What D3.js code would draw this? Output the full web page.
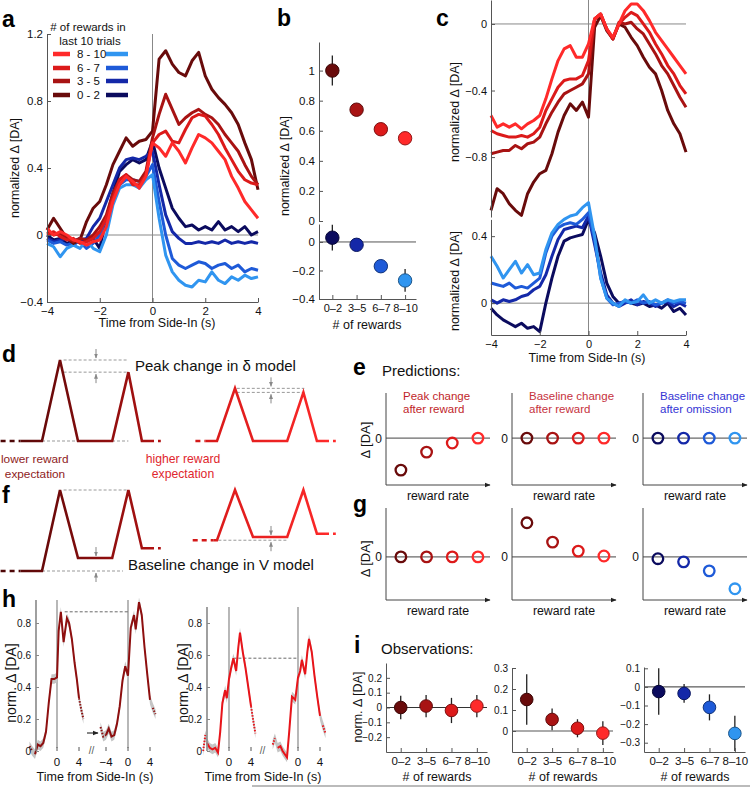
<!DOCTYPE html>
<html><head><meta charset="utf-8">
<script src="https://cdn.jsdelivr.net/npm/d3@7"></script>
<style>body{margin:0;background:#fff;}</style>
</head><body>
<script>
// ================= DATA =================
const groupNames = ["0 - 2","3 - 5","6 - 7","8 - 10"];
const groupTicks = ["0–2","3–5","6–7","8–10"];
const timeA = [-4,-3.75,-3.5,-3.25,-3,-2.75,-2.5,-2.25,-2,-1.75,-1.5,-1.25,-1,-0.75,-0.5,-0.25,0,0.25,0.5,0.75,1,1.25,1.5,1.75,2,2.25,2.5,2.75,3,3.25,3.5,3.75,4];
// panel a (order 0-2, 3-5, 6-7, 8-10)
const aRed02  = [0.03,0.10,0.04,-0.02,-0.05,-0.03,0.08,0.16,0.20,0.30,0.42,0.50,0.58,0.53,0.56,0.57,0.62,1.05,1.10,1.02,0.97,0.95,1.04,1.09,0.95,0.87,0.82,0.78,0.73,0.66,0.55,0.45,0.27];
const aRed35  = [0.02,0.00,0.01,-0.02,-0.04,-0.02,-0.03,0.00,0.05,0.12,0.25,0.33,0.36,0.33,0.32,0.38,0.58,0.72,0.84,0.75,0.66,0.70,0.73,0.75,0.72,0.70,0.66,0.60,0.55,0.50,0.42,0.35,0.30];
const aRed67  = [0.00,0.02,-0.01,-0.03,-0.02,-0.05,-0.04,-0.02,0.02,0.10,0.22,0.33,0.36,0.30,0.30,0.36,0.55,0.60,0.62,0.56,0.55,0.63,0.70,0.72,0.71,0.66,0.60,0.52,0.45,0.38,0.33,0.31,0.30];
const aRed810 = [0.04,0.00,0.02,0.00,-0.03,-0.04,-0.06,-0.04,-0.03,0.05,0.20,0.30,0.35,0.32,0.28,0.35,0.55,0.52,0.47,0.55,0.50,0.43,0.52,0.60,0.58,0.55,0.50,0.45,0.35,0.28,0.20,0.15,0.10];
const aBlue02  = [0.00,-0.03,-0.02,-0.05,-0.04,-0.02,-0.04,-0.02,-0.08,0.10,0.25,0.38,0.42,0.45,0.43,0.45,0.56,0.40,0.28,0.16,0.10,0.05,0.06,0.03,0.05,0.03,0.08,0.03,0.05,0.02,0.05,0.00,0.02];
const aBlue35  = [-0.02,-0.04,-0.03,-0.02,-0.06,-0.03,-0.02,0.05,0.10,0.20,0.30,0.40,0.45,0.46,0.45,0.47,0.50,0.30,0.12,0.02,-0.02,-0.05,-0.05,-0.04,-0.05,-0.04,-0.05,-0.03,-0.05,-0.04,-0.05,-0.04,-0.05];
const aBlue67  = [-0.03,-0.05,-0.04,-0.06,-0.05,-0.04,-0.08,-0.05,0.00,0.10,0.22,0.30,0.33,0.33,0.32,0.35,0.42,0.20,0.00,-0.14,-0.18,-0.20,-0.18,-0.16,-0.17,-0.20,-0.18,-0.17,-0.20,-0.18,-0.22,-0.20,-0.21];
const aBlue810 = [-0.05,-0.07,-0.13,-0.08,-0.06,-0.08,-0.03,-0.08,-0.10,0.00,0.18,0.28,0.30,0.30,0.28,0.33,0.36,0.10,-0.12,-0.22,-0.27,-0.30,-0.31,-0.27,-0.28,-0.22,-0.27,-0.29,-0.25,-0.27,-0.24,-0.26,-0.25];
// panel b
const bReward = [1.0,0.74,0.61,0.55];
const bRewardErr = [0.10,0.035,0.02,0.04];
const bOmission = [0.03,-0.02,-0.17,-0.27];
const bOmissionErr = [0.09,0.04,0.04,0.08];
// panel c
const cRed02  = [-1.12,-0.99,-1.02,-1.08,-1.12,-1.15,-1.02,-0.95,-0.90,-0.88,-0.78,-0.65,-0.55,-0.48,-0.52,-0.47,-0.56,-0.02,0.05,-0.04,-0.09,0.00,-0.02,-0.08,-0.13,-0.20,-0.26,-0.30,-0.40,-0.52,-0.60,-0.66,-0.77];
const cRed35  = [-0.78,-0.77,-0.76,-0.76,-0.73,-0.75,-0.72,-0.71,-0.68,-0.60,-0.53,-0.47,-0.42,-0.40,-0.38,-0.36,-0.30,0.03,0.06,-0.03,-0.09,0.01,0.00,0.01,-0.03,-0.06,-0.12,-0.18,-0.25,-0.30,-0.37,-0.44,-0.50];
const cRed67  = [-0.64,-0.66,-0.67,-0.68,-0.68,-0.67,-0.68,-0.66,-0.62,-0.52,-0.45,-0.38,-0.34,-0.33,-0.33,-0.31,-0.22,0.03,0.06,-0.03,-0.09,0.00,0.04,0.07,0.05,0.00,-0.05,-0.12,-0.18,-0.25,-0.30,-0.37,-0.42];
const cRed810 = [-0.55,-0.62,-0.60,-0.62,-0.60,-0.63,-0.60,-0.58,-0.55,-0.45,-0.33,-0.22,-0.15,-0.13,-0.20,-0.20,-0.12,0.03,0.06,-0.03,-0.08,0.00,0.08,0.12,0.12,0.08,0.02,-0.05,-0.10,-0.15,-0.20,-0.25,-0.30];
const cBlue02  = [-0.03,-0.07,-0.10,-0.12,-0.14,-0.12,-0.15,-0.14,-0.17,0.00,0.15,0.28,0.37,0.39,0.40,0.41,0.50,0.42,0.28,0.12,0.04,0.00,0.01,0.00,-0.01,0.00,-0.02,-0.01,-0.03,0.00,-0.05,-0.03,-0.07];
const cBlue35  = [0.02,0.00,0.02,0.01,0.02,0.04,0.05,0.08,0.10,0.17,0.28,0.38,0.44,0.45,0.46,0.45,0.52,0.35,0.18,0.05,0.00,-0.02,0.00,0.02,-0.01,0.01,0.00,-0.02,0.00,0.01,-0.02,0.00,-0.02];
const cBlue67  = [0.12,0.11,0.10,0.12,0.09,0.10,0.09,0.12,0.15,0.30,0.40,0.45,0.47,0.48,0.47,0.50,0.54,0.38,0.15,0.03,-0.01,0.00,0.01,0.00,0.02,0.00,0.01,-0.01,0.00,0.02,0.00,0.01,0.00];
const cBlue810 = [0.28,0.22,0.15,0.20,0.25,0.18,0.23,0.17,0.18,0.32,0.42,0.47,0.50,0.52,0.53,0.57,0.60,0.40,0.15,0.03,0.00,-0.02,0.02,0.00,0.01,0.05,0.00,0.02,0.00,0.02,0.01,0.02,0.02];
// panels d / f : schematic levels at knots (rise start, peak 1, trough, 2nd rise, peak 2, end)
const schemKnots = [0,1,2,3.9,4.8,5.55];
const dLower  = [0,1,0,0,0.85,0];
const dHigher = [0,0.65,0,0,0.6,0];
const fLower  = [0,1,0.16,0.16,1,0.28];
const fHigher = [0.38,1,0.42,0.42,1,0.46];
// panels e / g : predictions
const ePeakReward = [-0.71,-0.31,-0.11,0];
const eBaseReward = [0,0,0,0];
const eBaseOmission = [0,0,0,0];
const gPeakReward = [0,0,0,0];
const gBaseReward = [0.76,0.33,0.13,0.02];
const gBaseOmission = [-0.04,-0.11,-0.31,-0.71];
// panel h
const hLow1T = [-5,-4.5,-4,-3.5,-3,-2.5,-2,-1.5,-1,-0.5,0,0.3,0.7,1.2,1.8,2.2,2.7,3.2,3.6,4,4.4,4.8];
const hLow1V = [0.03,0.00,-0.02,0.04,0.03,0.05,0.12,0.30,0.45,0.45,0.46,0.75,0.87,0.68,0.83,0.80,0.70,0.55,0.45,0.33,0.26,0.20];
const hLow2T = [-5,-4.5,-4,-3.5,-3,-2.5,-2,-1.5,-1,-0.5,0,0.5,1.1,1.4,2,2.5,3,3.5,4,4.5,5];
const hLow2V = [0.15,0.09,0.10,0.14,0.09,0.10,0.17,0.28,0.44,0.53,0.47,0.77,0.85,0.76,0.93,0.85,0.65,0.48,0.32,0.27,0.23];
const hHigh1T = [-4.7,-4.3,-4,-3.5,-3,-2.5,-2,-1.6,-1.2,-0.7,-0.4,0,0.4,0.8,1.3,1.7,2,2.5,3,3.5,4,4.5,4.8];
const hHigh1V = [0.00,0.10,0.05,0.02,0.01,0.02,-0.01,0.12,0.30,0.38,0.33,0.45,0.52,0.58,0.50,0.65,0.74,0.62,0.52,0.40,0.28,0.17,0.11];
const hHigh2T = [-4.6,-4.2,-3.7,-3.2,-2.8,-2.4,-2,-1.6,-1.1,-0.5,0,0.4,0.7,1.3,1.7,2,2.5,3,3.5,4,4.5,5];
const hHigh2V = [0.04,0.08,0.02,0.03,0.00,-0.02,-0.04,0.12,0.34,0.32,0.46,0.50,0.57,0.48,0.62,0.70,0.62,0.47,0.34,0.22,0.16,0.11];
const hLowRef = 0.87, hHighRef = 0.58;
const hSem = 0.03;
// panel i : observations
const iPeak = [0.0,0.01,-0.02,0.01];
const iPeakErr = [0.08,0.075,0.085,0.075];
const iBaseRew = [0.15,0.055,0.013,-0.01];
const iBaseRewErr = [0.12,0.052,0.043,0.057];
const iBaseOm = [-0.025,-0.035,-0.11,-0.25];
const iBaseOmErr = [0.125,0.05,0.07,0.095];

// ================= STYLE =================
const FONT = '"Liberation Sans", Arial, Helvetica, sans-serif';
const AX = '#555';
const redC  = ["#690b0b","#a81313","#dc1a1a","#ff2a2a"];
const blueC = ["#0b0b5e","#1428a8","#1e5ad8","#3095f0"];

const svg = d3.select("body").append("svg").attr("width",750).attr("height",788)
  .attr("font-family",FONT);
const defs = svg.append("defs");
defs.append("marker").attr("id","ah").attr("viewBox","0 0 10 10").attr("refX",9).attr("refY",5)
  .attr("markerWidth",5).attr("markerHeight",5).attr("orient","auto")
  .append("path").attr("d","M0,1 L10,5 L0,9 Z").attr("fill","#888");
defs.append("marker").attr("id","ahk").attr("viewBox","0 0 10 10").attr("refX",9).attr("refY",5)
  .attr("markerWidth",6).attr("markerHeight",6).attr("orient","auto")
  .append("path").attr("d","M0,1 L10,5 L0,9 Z").attr("fill","#222");

const fnum = d => d3.format("~g")(d);
function sty(g,fs,col){
  g.attr("font-family",FONT).attr("font-size",fs);
  g.select(".domain").attr("stroke",col||AX);
  g.selectAll(".tick line").attr("stroke",col||AX);
  g.selectAll(".tick text").attr("fill","#111");
}
function yAx(scale,x,ticks,fs,opt={}){
  const a=d3.axisLeft(scale).tickValues(ticks).tickSize(opt.ts??-4).tickSizeOuter(0).tickPadding(opt.pad??4).tickFormat(opt.fmt||fnum);
  const g=svg.append("g").attr("transform",`translate(${x},0)`).call(a); sty(g,fs,opt.col); return g;
}
function xAx(scale,y,ticks,fs,opt={}){
  const a=d3.axisBottom(scale).tickValues(ticks).tickSize(opt.ts??-4).tickSizeOuter(0).tickPadding(opt.pad??5).tickFormat(opt.fmt||fnum);
  const g=svg.append("g").attr("transform",`translate(0,${y})`).call(a); sty(g,fs,opt.col); return g;
}
function txt(x,y,s,o={}){
  const t=svg.append("text").attr("x",x).attr("y",y).text(s).attr("font-size",o.fs||12)
    .attr("fill",o.fill||"#111").attr("text-anchor",o.anchor||"start");
  if(o.bold) t.attr("font-weight","bold");
  return t;
}
function rlab(x,y,s,fs){
  svg.append("text").attr("transform",`translate(${x},${y}) rotate(-90)`).attr("text-anchor","middle")
    .attr("dy","0.35em").attr("font-size",fs).attr("fill","#111").text(s);
}
function hline(x1,x2,y,col,w,dash){ const l=svg.append("line").attr("x1",x1).attr("x2",x2).attr("y1",y).attr("y2",y).attr("stroke",col).attr("stroke-width",w||1); if(dash) l.attr("stroke-dasharray",dash); return l;}
function vline(x,y1,y2,col,w,dash){ const l=svg.append("line").attr("x1",x).attr("x2",x).attr("y1",y1).attr("y2",y2).attr("stroke",col).attr("stroke-width",w||1); if(dash) l.attr("stroke-dasharray",dash); return l;}
function letter(x,y,s){ txt(x,y,s,{fs:23,bold:true,fill:"#000"}); }

// ================= PANEL a =================
{
  const x=d3.scaleLinear().domain([-4,4]).range([47,258]);
  const y=d3.scaleLinear().domain([-0.4,1.2]).range([302,34]);
  hline(x(-4),x(4),y(0),"#888",1);
  vline(x(0),y(-0.4),y(1.2),"#888",1);
  const line=d3.line().x((d,i)=>x(timeA[i])).y(d=>y(d));
  [aBlue02,aBlue35,aBlue67,aBlue810].forEach((s,i)=>svg.append("path").attr("d",line(s)).attr("fill","none").attr("stroke",blueC[i]).attr("stroke-width",3).attr("stroke-linejoin","round"));
  [aRed02,aRed35,aRed67,aRed810].forEach((s,i)=>svg.append("path").attr("d",line(s)).attr("fill","none").attr("stroke",redC[i]).attr("stroke-width",3).attr("stroke-linejoin","round"));
  yAx(y,47,[-0.4,0,0.4,0.8,1.2],11.5);
  xAx(x,302,[-4,-2,0,2,4],11.5);
  rlab(15,168,"normalized Δ [DA]",12.5);
  txt(157,327,"Time from Side-In (s)",{fs:12.5,anchor:"middle"});
  letter(2,27,"a");
  txt(88,31,"# of rewards in",{fs:11.5,anchor:"middle"});
  txt(90,45,"last 10 trials",{fs:11.5,anchor:"middle"});
  const rowY=[95,81,68,54];
  groupNames.forEach((g,i)=>{
    hline(53,70,rowY[i],redC[i],4.5);
    hline(106,128,rowY[i],blueC[i],4.5);
    txt(77,rowY[i]+4,g,{fs:11.5});
  });
}

// ================= PANEL b =================
{
  const x=d3.scaleLinear().domain([-0.55,3.45]).range([319,416]);
  const yt=d3.scaleLinear().domain([0,1.19]).range([221,42]);
  const yb=d3.scaleLinear().domain([-0.4,0.126]).range([299,224]);
  hline(319,416,yb(0),"#555",1);
  const drawDots=(vals,errs,ys,cols)=>{
    vals.forEach((v,i)=>{
      vline(x(i),ys(v-errs[i]),ys(v+errs[i]),"#222",1.3);
      svg.append("circle").attr("cx",x(i)).attr("cy",ys(v)).attr("r",6.7).attr("fill",cols[i]).attr("stroke",d3.color(cols[i]).darker(1.6)).attr("stroke-width",1);
    });
  };
  yAx(yt,319,[0,0.2,0.4,0.6,0.8,1],11.5);
  yAx(yb,319,[-0.4,-0.2,0],11.5);
  xAx(x,299,[0,1,2,3],11,{fmt:i=>groupTicks[i]});
  drawDots(bReward,bRewardErr,yt,redC);
  drawDots(bOmission,bOmissionErr,yb,blueC);
  rlab(285,166,"normalized Δ [DA]",12.5);
  txt(367,329,"# of rewards",{fs:12.5,anchor:"middle"});
  letter(277,26,"b");
}

// ================= PANEL c =================
{
  const x=d3.scaleLinear().domain([-4,4]).range([491,686]);
  const yt=d3.scaleLinear().domain([-1.16,0.144]).range([217,0]);
  const yb=d3.scaleLinear().domain([-0.19,0.5]).range([335,219.4]);
  hline(x(-4),x(4),yt(0),"#888",1);
  hline(x(-4),x(4),yb(0),"#888",1);
  vline(x(0),0,335,"#888",1);
  const lt=d3.line().x((d,i)=>x(timeA[i])).y(d=>yt(d));
  const lb=d3.line().x((d,i)=>x(timeA[i])).y(d=>yb(d));
  [cRed02,cRed35,cRed67,cRed810].forEach((s,i)=>svg.append("path").attr("d",lt(s)).attr("fill","none").attr("stroke",redC[i]).attr("stroke-width",3).attr("stroke-linejoin","round"));
  [cBlue02,cBlue35,cBlue67,cBlue810].forEach((s,i)=>svg.append("path").attr("d",lb(s)).attr("fill","none").attr("stroke",blueC[i]).attr("stroke-width",3).attr("stroke-linejoin","round"));
  yAx(yt,491,[-0.8,-0.4,0],11);
  yAx(yb,491,[0,0.4],11);
  xAx(x,335,[-4,-2,0,2,4],11);
  rlab(455,112,"normalized Δ [DA]",12.5);
  rlab(455,281,"normalized Δ [DA]",12.5);
  txt(587,362,"Time from Side-In (s)",{fs:12.5,anchor:"middle"});
  letter(436,26,"c");
}

// ================= PANELS d / f =================
{
  const xsL=d3.scaleLinear().domain([0,1]).range([42,60]);
  const xsR=d3.scaleLinear().domain([0,1]).range([217,235]);
  const ysD=d3.scaleLinear().domain([0,1]).range([441,360]);
  const ysF=d3.scaleLinear().domain([0,1]).range([571,490]);
  function grad(id,x1,x2,c1,c2){
    const g=defs.append("linearGradient").attr("id",id).attr("gradientUnits","userSpaceOnUse").attr("x1",x1).attr("x2",x2).attr("y1",0).attr("y2",0);
    g.append("stop").attr("offset",0).attr("stop-color",c1);
    g.append("stop").attr("offset",1).attr("stop-color",c2);
  }
  function schem(xs,ys,lev,uDash,uSolid,id,c1,c2){
    grad(id,xs(uDash),xs(6.6),c1,c2);
    const ln=d3.line().x(d=>xs(d[0])).y(d=>ys(d[1]));
    const pts=[[uSolid,lev[0]]].concat(schemKnots.map((k,i)=>[k,lev[i]])).concat([[6.0,lev[5]]]);
    svg.append("path").attr("d",ln(pts)).attr("fill","none").attr("stroke",`url(#${id})`).attr("stroke-width",2.6).attr("stroke-linejoin","miter");
    svg.append("path").attr("d",ln([[uDash,lev[0]],[uSolid,lev[0]]])).attr("fill","none").attr("stroke",c1).attr("stroke-width",2.6).attr("stroke-dasharray","5,4");
    svg.append("path").attr("d",ln([[6.0,lev[5]],[6.6,lev[5]]])).attr("fill","none").attr("stroke",c2).attr("stroke-width",2.6).attr("stroke-dasharray","4,4");
  }
  function garrow(x,y1,y2){ svg.append("line").attr("x1",x).attr("x2",x).attr("y1",y1).attr("y2",y2).attr("stroke","#888").attr("stroke-width",1).attr("marker-end","url(#ah)"); }
  const gd="3,2";
  // d left
  hline(xsL(0),xsL(4.8),ysD(0),"#999",1,gd);
  hline(xsL(1.2),xsL(4.75),ysD(dLower[1]),"#999",1,gd);
  hline(xsL(1.2),xsL(4.75),ysD(dLower[4]),"#999",1,gd);
  garrow(xsL(3),ysD(dLower[1])-11,ysD(dLower[1])-2);
  garrow(xsL(3),ysD(dLower[4])+11,ysD(dLower[4])+2);
  schem(xsL,ysD,dLower,-2.3,-1.2,"gdl","#4d0606","#b01212");
  // d right
  hline(xsR(1.1),xsR(4.85),ysD(dHigher[1]),"#999",1,gd);
  hline(xsR(1.1),xsR(4.85),ysD(dHigher[4]),"#999",1,gd);
  garrow(xsR(3),ysD(dHigher[1])-11,ysD(dHigher[1])-2);
  garrow(xsR(3),ysD(dHigher[4])+11,ysD(dHigher[4])+2);
  schem(xsR,ysD,dHigher,-1.2,-0.65,"gdr","#d41818","#ff2a2a");
  // f left
  hline(xsL(0),xsL(4.5),ysF(0),"#999",1,gd);
  hline(xsL(1.2),xsL(4.75),ysF(1),"#999",1,gd);
  garrow(xsL(3),ysF(fLower[2])-11,ysF(fLower[2])-2);
  garrow(xsL(3),ysF(0)+11,ysF(0)+2);
  schem(xsL,ysF,fLower,-2.3,-1.2,"gfl","#4d0606","#b01212");
  // f right
  hline(xsR(-0.2),xsR(3.9),ysF(fHigher[0]),"#999",1,gd);
  garrow(xsR(3),ysF(fHigher[2])-11,ysF(fHigher[2])-2);
  garrow(xsR(3),ysF(fHigher[0])+11,ysF(fHigher[0])+2);
  schem(xsR,ysF,fHigher,-1.35,-0.2,"gfr","#d41818","#ff2a2a");
  txt(135,371,"Peak change in δ model",{fs:15,fill:"#111"});
  txt(128,570,"Baseline change in V model",{fs:15,fill:"#111"});
  txt(1,463,"lower reward",{fs:11.8,fill:"#8e1b1b"});
  txt(35,478,"expectation",{fs:11.8,anchor:"middle",fill:"#8e1b1b"});
  txt(183,463,"higher reward",{fs:12.2,anchor:"middle",fill:"#e0262e"});
  txt(183,478,"expectation",{fs:12.2,anchor:"middle",fill:"#e0262e"});
  letter(2,362,"d");
  letter(2,503,"f");
}

// ================= PANELS e / g =================
{
  const axX=[386,512,643];
  const rows=[
    {top:393,bot:485,y:d3.scaleLinear().domain([-1.04,1]).range([485,393]),data:[ePeakReward,eBaseReward,eBaseOmission],lab:496},
    {top:508,bot:600,y:d3.scaleLinear().domain([-0.96,1.09]).range([600,508]),data:[gPeakReward,gBaseReward,gBaseOmission],lab:611}
  ];
  const palettes=[redC,redC,blueC];
  rows.forEach(r=>{
    axX.forEach((x0,k)=>{
      const x=d3.scaleLinear().domain([-0.58,3.47]).range([x0,x0+104]);
      vline(x0,r.top,r.bot,"#444",1);
      svg.append("line").attr("x1",x0).attr("x2",x0+104).attr("y1",r.bot).attr("y2",r.bot).attr("stroke","#444").attr("stroke-width",1).attr("marker-end","url(#ahk)");
      hline(x0,x0+104,r.y(0),"#444",1);
      txt(x0-4,r.y(0)+4.5,"0",{fs:12,anchor:"end"});
      r.data[k].forEach((v,i)=>svg.append("circle").attr("cx",x(i)).attr("cy",r.y(v)).attr("r",5.3).attr("fill","none").attr("stroke",palettes[k][i]).attr("stroke-width",2.3));
      txt(x0+52,r.lab+4,"reward rate",{fs:12.3,anchor:"middle"});
    });
    rlab(365,r.y(0)+2,"Δ [DA]",13);
  });
  const titles=[["Peak change","after reward","#bf1f2a"],["Baseline change","after reward","#c6323d"],["Baseline change","after omission","#3434d4"]];
  titles.forEach((t,k)=>{ txt(axX[k]+17,400,t[0],{fs:11.5,fill:t[2]}); txt(axX[k]+17,413,t[1],{fs:11.5,fill:t[2]}); });
  letter(353,375,"e");
  letter(353,512,"g");
  txt(382,376,"Predictions:",{fs:15});
}

// ================= PANEL h =================
{
  const y=d3.scaleLinear().domain([0,0.8]).range([751,623]);
  function seg(x,T,V,col,solidLo,solidHi){
    const pts=T.map((t,i)=>[t,V[i]]);
    const area=d3.area().x(d=>x(d[0])).y0(d=>y(d[1]-hSem)).y1(d=>y(d[1]+hSem));
    svg.append("path").attr("d",area(pts)).attr("fill","#c4c4c4");
    const ln=d3.line().x(d=>x(d[0])).y(d=>y(d[1]));
    const solid=pts.filter(p=>p[0]>=solidLo&&p[0]<=solidHi);
    svg.append("path").attr("d",ln(solid)).attr("fill","none").attr("stroke",col).attr("stroke-width",2);
    const lo=pts.filter(p=>p[0]<=solidLo), hi=pts.filter(p=>p[0]>=solidHi);
    [lo,hi].forEach(s=>{ if(s.length>1) svg.append("path").attr("d",ln(s)).attr("fill","none").attr("stroke",col).attr("stroke-width",2).attr("stroke-dasharray","1.5,1.5"); });
  }
  function hpanel(axisX,x1,x2,yTop,T1,V1,T2,V2,col,ref,refT1,lab,showNeg4){
    vline(x1(0),yTop,748,"#888",1.2);
    vline(x2(0),yTop,748,"#888",1.2);
    hline(x1(refT1),x2(0),y(ref),"#444",0.8,"3,2");
    seg(x1,T1,V1,col,-4.2,4);
    seg(x2,T2,V2,col,-4,4.2);
    vline(axisX,yTop,751,"#888",1.6);
    const g=svg.append("g").attr("transform",`translate(${axisX},0)`).call(d3.axisLeft(y).tickValues([0,0.2,0.4,0.6,0.8]).tickSize(-3).tickSizeOuter(0).tickPadding(5).tickFormat(fnum));
    sty(g,10,"#888"); g.select(".domain").remove();
    [[x1,0],[x1,4],[x2,0],[x2,4]].concat(showNeg4?[[x2,-4]]:[]).forEach(([xs,t])=>{
      vline(xs(t),747,751,"#555",1);
      txt(xs(t),766,fnum(t),{fs:11.5,anchor:"middle"});
    });
    txt((x1(0)+x2(0))/2-1,754,"//",{fs:10,anchor:"middle",fill:"#555"});
    txt(lab,781,"Time from Side-In (s)",{fs:12.5,anchor:"middle"});
  }
  const xa1=d3.scaleLinear().domain([0,4]).range([57,79]);
  const xa2=d3.scaleLinear().domain([0,4]).range([128,150]);
  hpanel(36,xa1,xa2,600,hLow1T,hLow1V,hLow2T,hLow2V,"#8e0f0f",hLowRef,1.4,95,true);
  svg.append("line").attr("x1",87).attr("x2",98).attr("y1",733).attr("y2",733).attr("stroke","#111").attr("stroke-width",1).attr("marker-end","url(#ahk)");
  const xb1=d3.scaleLinear().domain([0,4]).range([229,251]);
  const xb2=d3.scaleLinear().domain([0,4]).range([298,320]);
  hpanel(207,xb1,xb2,607,hHigh1T,hHigh1V,hHigh2T,hHigh2V,"#e8141a",hHighRef,0.8,263,false);
  rlab(11,683,"norm. Δ [DA]",14);
  rlab(183,683,"norm. Δ [DA]",14);
  letter(2,607,"h");
}

// ================= PANEL i =================
{
  const subs=[
    {x0:386,y:d3.scaleLinear().domain([-0.3,0.3]).range([752,663]),ticks:[-0.2,-0.1,0,0.1,0.2],v:iPeak,e:iPeakErr,c:redC,zc:"#333",zw:1},
    {x0:512,y:d3.scaleLinear().domain([-0.1,0.3]).range([752,668]),ticks:[0,0.1,0.2,0.3],v:iBaseRew,e:iBaseRewErr,c:redC,zc:"#aaa",zw:2},
    {x0:644,y:d3.scaleLinear().domain([-0.35,0.107]).range([752,667]),ticks:[-0.3,-0.2,-0.1,0,0.1],v:iBaseOm,e:iBaseOmErr,c:blueC,zc:"#333",zw:1}
  ];
  subs.forEach(s=>{
    const x=d3.scaleLinear().domain([-0.58,3.4]).range([s.x0,s.x0+101]);
    hline(s.x0,s.x0+101,s.y(0),s.zc,s.zw);
    s.v.forEach((v,i)=>{
      vline(x(i),s.y(v-s.e[i]),s.y(v+s.e[i]),"#222",1.3);
      svg.append("circle").attr("cx",x(i)).attr("cy",s.y(v)).attr("r",6.3).attr("fill",s.c[i]).attr("stroke",d3.color(s.c[i]).darker(1.6)).attr("stroke-width",1);
    });
    yAx(s.y,s.x0,s.ticks,10);
    xAx(x,752,[0,1,2,3],11.5,{fmt:i=>groupTicks[i]});
    txt(s.x0+51,781,"# of rewards",{fs:12.5,anchor:"middle"});
  });
  rlab(358,707,"norm. Δ [DA]",12.5);
  letter(354,653,"i");
  txt(381,654,"Observations:",{fs:15});
  hline(252,750,786,"#bbb",2);
}
</script>
</body></html>
